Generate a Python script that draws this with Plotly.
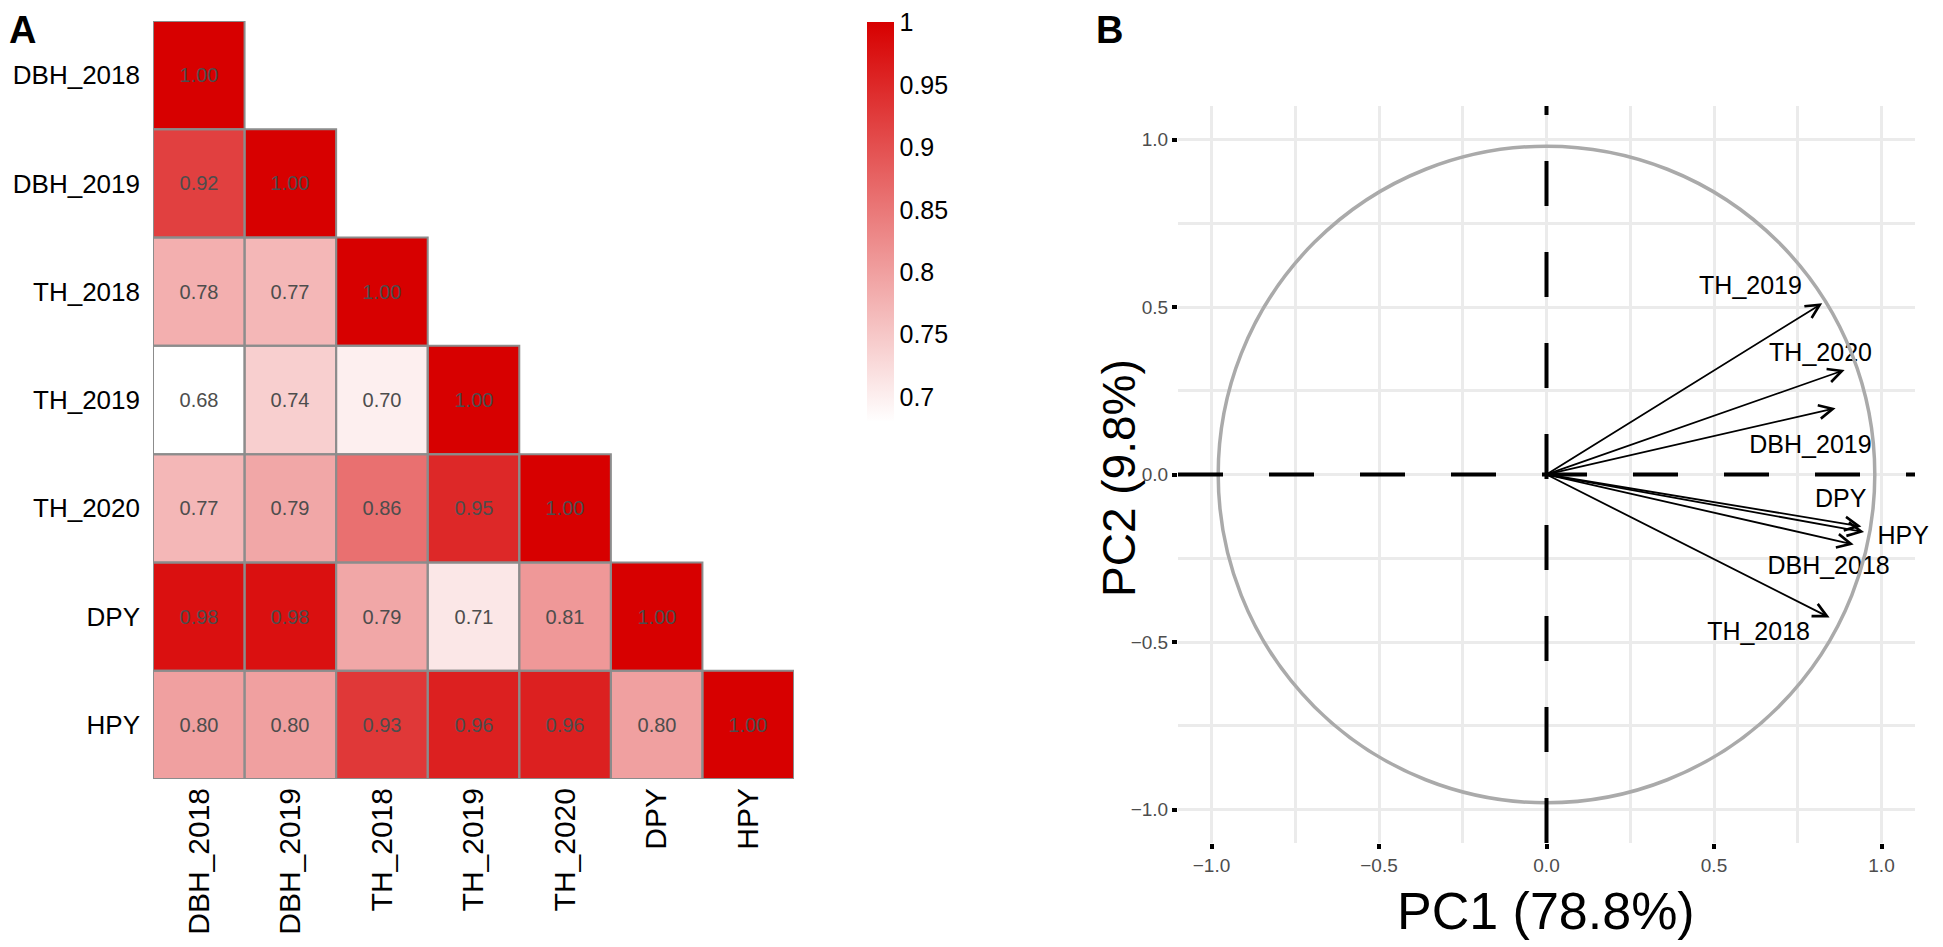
import plotly.graph_objects as go

# ---- data ----
variables = ["DBH_2018", "DBH_2019", "TH_2018", "TH_2019", "TH_2020", "DPY", "HPY"]

# lower triangle of the correlation matrix, one row per variable
corr_rows = [
    [1.00],
    [0.92, 1.00],
    [0.78, 0.77, 1.00],
    [0.68, 0.74, 0.70, 1.00],
    [0.77, 0.79, 0.86, 0.95, 1.00],
    [0.98, 0.98, 0.79, 0.71, 0.81, 1.00],
    [0.80, 0.80, 0.93, 0.96, 0.96, 0.80, 1.00],
]
cbar_ticks = [0.7, 0.75, 0.8, 0.85, 0.9, 0.95, 1]

# PCA loadings (arrow tips)
pc1 = [0.917, 0.863, 0.845, 0.823, 0.890, 0.940, 0.948]
pc2 = [-0.209, 0.198, -0.427, 0.511, 0.312, -0.155, -0.172]
pca_ticks = [-1.0, -0.5, 0.0, 0.5, 1.0]
pc1_title = "PC1 (78.8%)"
pc2_title = "PC2 (9.8%)"

# ---- layout helpers (page pixels -> paper); the page body adds an 8px margin ----
PAGE_W, PAGE_H = 1943, 947
PAD = 8
W, H = PAGE_W - PAD, PAGE_H - PAD
FONT = "Liberation Sans, Arial, Helvetica, sans-serif"


def fx(p):
    return (p - PAD) / W


def fy(p):
    return 1 - (p - PAD) / H


# label placement relative to arrow tip (axis units)
label_offset = {
    "DBH_2018": (-0.075, -0.069),
    "DBH_2019": (-0.075, -0.114),
    "TH_2018": (-0.212, -0.048),
    "TH_2019": (-0.214, 0.047),
    "TH_2020": (-0.072, 0.046),
    "DPY": (-0.062, 0.077),
    "HPY": (0.117, -0.018),
}

n = len(variables)
z = []
txt = []
for i in range(n):
    row = corr_rows[i] + [None] * (n - len(corr_rows[i]))
    z.append(row)
    txt.append(["%.2f" % v if v is not None else "" for v in row])

fig = go.Figure()

# panel A: correlation heatmap
fig.add_trace(go.Heatmap(
    z=z, x=variables, y=variables, text=txt,
    texttemplate="%{text}",
    textfont=dict(size=20, color="#4D4D4D", family=FONT),
    zmin=0.68, zmax=1.0005,
    colorscale=[[0, "#FFFFFF"], [1, "#D70000"]],
    hoverongaps=False,
    colorbar=dict(
        x=fx(867), xanchor="left", xpad=0,
        y=fy(22), yanchor="top", ypad=0,
        len=400, lenmode="pixels",
        thickness=27, thicknessmode="pixels",
        outlinewidth=0, ticks="",
        tickvals=cbar_ticks,
        tickfont=dict(size=25, color="black", family=FONT),
    ),
    xaxis="x", yaxis="y",
))

# cell borders
shapes = []
for i in range(n):
    for j in range(len(corr_rows[i])):
        shapes.append(dict(
            type="rect", xref="x", yref="y",
            x0=j - 0.5, x1=j + 0.5, y0=i - 0.5, y1=i + 0.5,
            line=dict(color="#8C8C8C", width=2), layer="above",
        ))

# panel B: correlation circle and reference lines
shapes.append(dict(type="circle", xref="x2", yref="y2", x0=-0.98, x1=0.98, y0=-0.98, y1=0.98,
                   line=dict(color="#AAAAAA", width=3.5), layer="above"))
shapes.append(dict(type="line", xref="x2", yref="y2", x0=-1.1, x1=1.1, y0=0, y1=0,
                   line=dict(color="black", width=4, dash="45px,46px"), layer="above"))
shapes.append(dict(type="line", xref="x2", yref="y2", x0=0, x1=0, y0=-1.1, y1=1.1,
                   line=dict(color="black", width=4, dash="45px,46px"), layer="above"))

annotations = []
for k, name in enumerate(variables):
    annotations.append(dict(
        x=pc1[k], y=pc2[k], xref="x2", yref="y2",
        ax=0, ay=0, axref="x2", ayref="y2",
        text="", showarrow=True, arrowhead=5, arrowsize=1.5,
        arrowwidth=1.8, arrowcolor="black", standoff=0, startstandoff=0,
    ))

fig.add_trace(go.Scatter(
    x=[pc1[k] + label_offset[v][0] for k, v in enumerate(variables)],
    y=[pc2[k] + label_offset[v][1] for k, v in enumerate(variables)],
    text=variables, mode="text", textposition="middle center",
    textfont=dict(size=25, color="black", family=FONT),
    cliponaxis=False,
    showlegend=False, hoverinfo="skip",
    xaxis="x2", yaxis="y2",
))

# titles and panel letters
annotations += [
    dict(text=pc1_title, x=fx(1546), y=fy(911), xref="paper", yref="paper",
         showarrow=False, font=dict(size=52, color="black", family=FONT),
         xanchor="center", yanchor="middle", borderpad=0),
    dict(text=pc2_title, x=fx(1119), y=fy(478), xref="paper", yref="paper",
         showarrow=False, textangle=-90, font=dict(size=46, color="black", family=FONT),
         xanchor="center", yanchor="middle"),
    dict(text="<b>A</b>", x=0, y=1, xref="paper", yref="paper",
         showarrow=False, font=dict(size=38, color="black", family=FONT),
         xanchor="left", yanchor="top", borderpad=0),
    dict(text="<b>B</b>", x=fx(1095), y=1, xref="paper", yref="paper",
         showarrow=False, font=dict(size=38, color="black", family=FONT),
         xanchor="left", yanchor="top", borderpad=0),
]

grid = "#EBEBEB"
fig.update_layout(
    width=W, height=H,
    margin=dict(l=0, r=0, t=0, b=0),
    paper_bgcolor="white", plot_bgcolor="white",
    font=dict(family=FONT, color="black"),
    showlegend=False,
    shapes=shapes, annotations=annotations,
    xaxis=dict(
        domain=[fx(153), fx(794)], anchor="y",
        type="category", categoryarray=variables, range=[-0.5, n - 0.5],
        tickangle=-90, ticks="", showgrid=False, zeroline=False, showline=False,
        tickfont=dict(size=30, color="black"), ticklabelstandoff=2,
    ),
    yaxis=dict(
        domain=[fy(779), fy(21)], anchor="x",
        type="category", categoryarray=variables, range=[n - 0.5, -0.5],
        ticks="", showgrid=False, zeroline=False, showline=False,
        tickfont=dict(size=26, color="black"), ticklabelstandoff=12,
    ),
    xaxis2=dict(
        domain=[fx(1178), fx(1915)], anchor="y2",
        range=[-1.1, 1.1], tickvals=pca_ticks, tickformat=".1f",
        ticks="outside", ticklen=5, tickwidth=3.5, tickcolor="black",
        tickfont=dict(size=19, color="#4D4D4D"),
        showgrid=True, gridcolor=grid, gridwidth=3, zeroline=False, showline=False,
        minor=dict(dtick=0.25, tick0=0, showgrid=True, gridcolor=grid, gridwidth=3, ticks=""),
    ),
    yaxis2=dict(
        domain=[fy(843), fy(106)], anchor="x2",
        range=[-1.1, 1.1], tickvals=pca_ticks, tickformat=".1f",
        ticks="outside", ticklen=5, tickwidth=3.5, tickcolor="black",
        tickfont=dict(size=19, color="#4D4D4D"),
        showgrid=True, gridcolor=grid, gridwidth=3, zeroline=False, showline=False,
        minor=dict(dtick=0.25, tick0=0, showgrid=True, gridcolor=grid, gridwidth=3, ticks=""),
    ),
)

fig.write_html("out.html")
